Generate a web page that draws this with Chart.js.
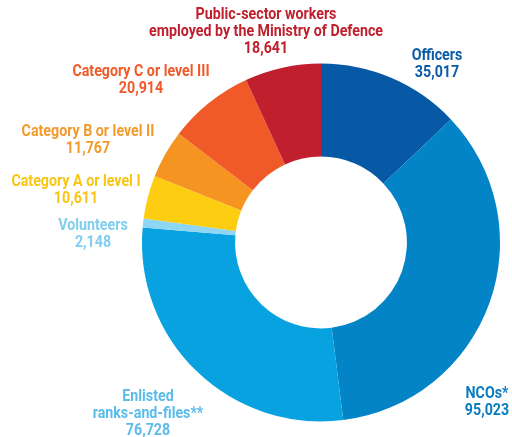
<!DOCTYPE html>
<html>
<head>
<meta charset="utf-8">
<script src="https://cdn.jsdelivr.net/npm/chart.js@4"></script>
<style>
  html, body { margin: 0; padding: 0; background: #fff; }
  #wrap { width: 512px; height: 437px; position: relative; }
</style>
</head>
<body>
<div id="wrap"><canvas id="staffChart"></canvas></div>
<script>
// ---- data (clockwise from 12 o'clock) ----
const categories = ["Officers", "NCOs*", "Enlisted ranks-and-files**", "Volunteers",
  "Category A or level I", "Category B or level II", "Category C or level III",
  "Public-sector workers employed by the Ministry of Defence"];
const headcount = [35017, 95023, 76728, 2148, 10611, 11767, 20914, 18641];
const sliceColors = ["#0759a6", "#0284c7", "#08a2e0", "#8fd5f5", "#fccd10", "#f59420", "#f05a28", "#c01f2e"];
const textColors = ["#0b5aa6", "#0a7cc2", "#5bbcea", "#80cdf0", "#f8c514", "#f39a2b", "#ef5a28", "#c0202e"];
// label lines (name split as printed)
const labelLines = [
  ["Officers"],
  ["NCOs*"],
  ["Enlisted", "ranks-and-files**"],
  ["Volunteers"],
  ["Category A or level I"],
  ["Category B or level II"],
  ["Category C or level III"],
  ["Public-sector workers", "employed by the Ministry of Defence"]
];
// where each label block starts (center x, first line y)
const labelPos = [
  [437, 56], [487, 394], [148, 397], [93, 226],
  [76, 182], [88, 132], [141, 72], [266, 15]
];

const fmt = n => n.toLocaleString("en-US");

// labels drawn after the ring, squeezed to look like a condensed face
const sliceLabels = {
  id: "sliceLabels",
  afterDraw(chart) {
    const { ctx } = chart;
    ctx.save();
    ctx.font = "bold 16px Roboto, 'DejaVu Sans Condensed', sans-serif";
    // longest line in the source is ~234px wide
    const squeeze = 234 / ctx.measureText("employed by the Ministry of Defence").width;
    ctx.textAlign = "center";
    ctx.textBaseline = "middle";
    labelLines.forEach((lines, i) => {
      const [x, y] = labelPos[i];
      const all = lines.concat([fmt(headcount[i])]);
      ctx.fillStyle = textColors[i];
      all.forEach((t, k) => {
        ctx.save();
        ctx.translate(x, y + k * 17);
        ctx.scale(squeeze, 1);
        ctx.fillText(t, 0, 0);
        ctx.restore();
      });
    });
    ctx.restore();
  }
};

const ctx = document.getElementById("staffChart").getContext("2d");
new Chart(ctx, {
  type: "doughnut",
  data: {
    labels: categories,
    datasets: [{
      data: headcount,
      backgroundColor: sliceColors,
      borderWidth: 0
    }]
  },
  options: {
    responsive: true,
    maintainAspectRatio: false,
    animation: false,
    cutout: "48%",
    layout: { padding: { left: 142, right: 12, top: 63, bottom: 15 } },
    plugins: {
      legend: { display: false },
      tooltip: { enabled: false }
    }
  },
  plugins: [sliceLabels]
});
</script>
</body>
</html>
